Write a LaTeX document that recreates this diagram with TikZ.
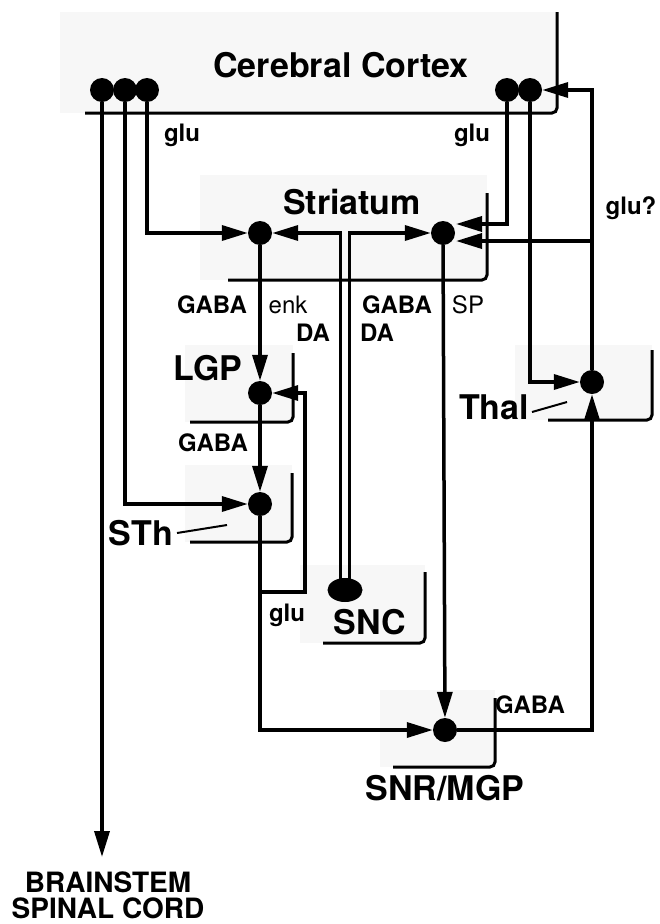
\documentclass[tikz,border=0pt]{standalone}
\usepackage{fontspec}
\setmainfont{TeX Gyre Heros}
\usetikzlibrary{positioning,shapes.geometric,arrows.meta,calc}

\begin{document}
\begin{tikzpicture}[x=1pt, y=-1pt,
  every node/.style={font=\bfseries\fontsize{24}{26}\selectfont, inner sep=0pt},
  area/.style={font=\bfseries\fontsize{34}{36}\selectfont},
  thin tag/.style={font=\fontsize{24}{26}\selectfont},
  cell/.style={circle, fill=black, minimum size=24pt},
  axon/.style={line width=3.5pt},
  syn/.style={axon, -{Triangle[length=26pt,width=15pt]}},
  rim/.style={line width=3pt, rounded corners=5pt},
  speck/.style={fill=black!3}
]
  \useasboundingbox (0,0) rectangle (660,924);

  % stippled regions
  \fill[speck] (60,12) rectangle (557,113);
  \fill[speck] (200,175) rectangle (487,280);
  \fill[speck] (185,345) rectangle (293,422);
  \fill[speck] (185,465) rectangle (292,542);
  \fill[speck] (300,565) rectangle (425,643);
  \fill[speck] (380,690) rectangle (495,767);
  \fill[speck] (515,345) rectangle (652,420);

  \draw[rim] (85,113) -- (557,113) -- (557,12);
  \draw[rim] (228,280) -- (487,280) -- (487,193);
  \draw[rim] (190,422) -- (293,422) -- (293,353);
  \draw[rim] (190,542) -- (292,542) -- (292,473);
  \draw[rim] (323,643) -- (425,643) -- (425,572);
  \draw[rim] (393,767) -- (495,767) -- (495,698);
  \draw[rim] (548,420) -- (652,420) -- (652,350);

  \node[area] (cortex) at (341,65) {Cerebral Cortex};
  \node[area] (striatum) at (352,202) {Striatum};
  \node[area] (lgptext) at (208,368) {LGP};
  \node[area] (sthtext) at (141,533) {STh};
  \node[area] (thaltext) at (494,407) {Thal};
  \node[area] (snctext) at (370,622) {SNC};
  \node[area] (snrtext) at (445,788) {SNR/MGP};
  \node[font=\bfseries\fontsize{28}{28}\selectfont] (brain) at (108,882) {BRAINSTEM};
  \node[font=\bfseries\fontsize{28}{28}\selectfont] (spinal) at (108,908) {SPINAL CORD};

  \draw[line width=2pt] (177,533) -- (227,525);
  \draw[line width=2pt] (532,412) -- (567,402);

  % neurons
  \node[cell] (cL1) at (102,90) {};
  \node[cell] (cL2) at (125,90) {};
  \node[cell] (cL3) at (147,90) {};
  \node[cell] (cR1) at (507,90) {};
  \node[cell] (cR2) at (530,90) {};
  \node[cell] (sL) at (260,233) {};
  \node[cell] (sR) at (443,233) {};
  \node[cell] (lgp) at (260,393) {};
  \node[cell] (sth) at (260,504) {};
  \node[cell] (snr) at (445,730) {};
  \node[cell] (thal) at (592,382) {};
  \node[ellipse, fill=black, minimum width=35pt, minimum height=24pt] (snc) at (345,590) {};

  \coordinate (bs) at (102,857);
  \coordinate (sRa) at (456,224);
  \coordinate (sRb) at (456,241);
  \coordinate (fb) at (305,592);

  % pathways
  \draw[syn] (cL1) -- (bs);
  \draw[syn] (cL2) |- (sth);
  \draw[syn] (cL3) |- (sL);
  \draw[syn] (cR1) |- (sRa);
  \draw[syn] (cR2) |- (thal);
  \draw[syn] (thal) |- (cR2);
  \draw[syn] (thal) |- (sRb);
  \draw[syn] ([xshift=-4.5pt]snc.center) |- (sL);
  \draw[syn] ([xshift=4.5pt]snc.center) |- (sR);
  \draw[syn] (sL) -- (lgp);
  \draw[syn] (lgp) -- (sth);
  \draw[syn] (sth) |- (snr);
  \draw[syn] (sth |- fb) -- (fb) |- (lgp);
  \draw[syn] (sR) -- (snr);
  \draw[syn] (snr) -| (thal);

  % transmitters
  \node (glu1) at (182,135) {glu};
  \node (glu2) at (472,135) {glu};
  \node (glu3) at (631,208) {glu?};
  \node (gaba1) at (212,305) {GABA};
  \node[thin tag] (enk) at (288,305) {enk};
  \node (da1) at (313,333) {DA};
  \node (gaba2) at (397,305) {GABA};
  \node (da2) at (377,333) {DA};
  \node[thin tag] (sp) at (468,305) {SP};
  \node (gaba3) at (213,443) {GABA};
  \node (glu4) at (287,615) {glu};
  \node (gaba4) at (530,705) {GABA};
\end{tikzpicture}
\end{document}
